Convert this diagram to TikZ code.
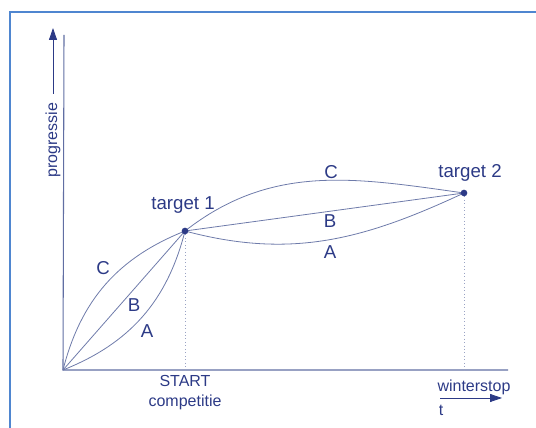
\documentclass[tikz,border=0pt]{standalone}
\usepackage{fontspec}
\setmainfont{Liberation Sans}
\usepackage{xcolor}
\usepackage{tikz}
\usetikzlibrary{arrows.meta}
\definecolor{chartnavy}{HTML}{2C3A86}
\definecolor{curveblue}{HTML}{6E7BAA}
\definecolor{frameblue}{HTML}{4F86D0}

\begin{document}
\begin{tikzpicture}[x=0.75pt, y=0.75pt, font=\fontsize{14}{16}\selectfont, text=chartnavy,
  curve/.style={curveblue, line width=0.6pt},
  axis/.style={curveblue!80!chartnavy, line width=0.8pt},
  guide/.style={curveblue!70, dotted, line width=0.6pt},
  pointer/.style={-{Triangle[length=9pt, width=6pt]}, chartnavy, line width=0.6pt},
  small/.style={font=\fontsize{12}{14}\selectfont},
  dot/.style={circle, fill=chartnavy, inner sep=0pt, minimum size=5pt}]
  \useasboundingbox (0,0) rectangle (536,428);
  \draw[frameblue, line width=1.5pt] (536,415.5) -- (9.5,415.5) -- (9.5,0);

  \coordinate (O) at (63,58);
  \coordinate (yend) at (64,393);
  \coordinate (xend) at (508,58);
  \coordinate (t1) at (185,197);
  \coordinate (t2) at (464,235);
  \coordinate (t1foot) at (185,58);
  \coordinate (t2foot) at (464,58);
  \draw[axis] (yend) -- (O) -- (xend);
  \draw[guide] (t1) -- (t1foot);
  \draw[guide] (t2) -- (t2foot);

  % routes up to target 1
  \draw[curve] (O) to[bend left=27] (t1);
  \draw[curve] (O) -- (t1);
  \draw[curve] (O) to[bend right=27] (t1);
  % routes from target 1 to target 2
  \draw[curve] (t1) to[out=38, in=172] (t2);
  \draw[curve] (t1) -- (t2);
  \draw[curve] (t1) to[out=-15, in=205] (t2);

  \node[dot] (t1dot) at (t1) {};
  \node[dot] (t2dot) at (t2) {};
  \node (target1) at (183,223) {target 1};
  \node (target2) at (470,255) {target 2};
  \node (lblC1) at (103,160) {C};
  \node (lblB1) at (134,123) {B};
  \node (lblA1) at (147,97) {A};
  \node (lblC2) at (331,256) {C};
  \node (lblB2) at (330,207) {B};
  \node (lblA2) at (330,176) {A};
  \node[small] (start) at (185,47) {START};
  \node[small] (competitie) at (185,26) {competitie};
  \node[small] (winterstop) at (474,41) {winterstop};
  \node[small] (tlabel) at (441,18) {t};
  \node[small, rotate=90] (progressie) at (53,288) {progressie};

  % axis arrows
  \coordinate (tstart) at (440,30);
  \coordinate (tend) at (502,30);
  \coordinate (pstart) at (53,334);
  \coordinate (pend) at (53,400);
  \draw[pointer] (tstart) -- (tend);
  \draw[pointer] (pstart) -- (pend);
\end{tikzpicture}
\end{document}
